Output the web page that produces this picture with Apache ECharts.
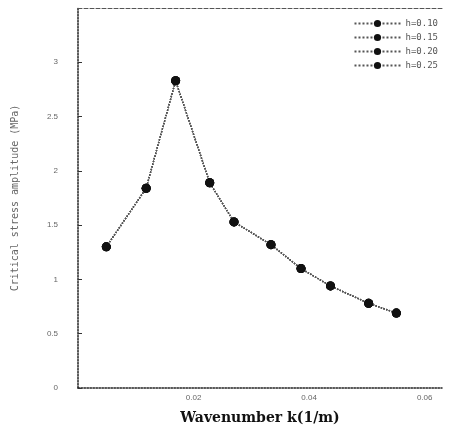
<!DOCTYPE html>
<html>
<head>
<meta charset="utf-8">
<script src="https://cdn.jsdelivr.net/npm/echarts@6/dist/echarts.min.js"></script>
<style>
  html, body { margin: 0; padding: 0; background: #fff; }
  #main { width: 457px; height: 431px; }
</style>
</head>
<body>
<div id="main"></div>
<script>
// values
var wavenumbers = [0.0049, 0.0118, 0.0169, 0.0228, 0.0270, 0.0334, 0.0386, 0.0437, 0.0503, 0.0551]
var seriesA = [1.30, 1.84, 2.83, 1.89, 1.53, 1.32, 1.10, 0.94, 0.78, 0.69]
var seriesB = [1.30, 1.84, 2.83, 1.89, 1.53, 1.32, 1.10, 0.94, 0.78, 0.69]
var seriesC = [1.30, 1.84, 2.83, 1.89, 1.53, 1.32, 1.10, 0.94, 0.78, 0.69]
var seriesD = [1.30, 1.84, 2.83, 1.89, 1.53, 1.32, 1.10, 0.94, 0.78, 0.69]
var seriesNames = ['h=0.10', 'h=0.15', 'h=0.20', 'h=0.25']

var chart = echarts.init(document.getElementById('main'))

var pairs = function (ys) {
    return ys.map(function (y, i) { return [wavenumbers[i], y] })
}
var allSeries = [seriesA, seriesB, seriesC, seriesD]

var option = {
    animation: false,
    backgroundColor: '#fff',
    grid: { left: 78, right: 15, top: 8, bottom: 43 },
    legend: {
        right: 14, top: 14, orient: 'vertical', itemGap: 5,
        itemWidth: 46, itemHeight: 9,
        textStyle: { fontSize: 9, color: '#555', fontFamily: 'DejaVu Sans Mono' },
        data: seriesNames
    },
    xAxis: [{
        type: 'value', min: 0, max: 0.063, interval: 0.02,
        name: 'Wavenumber k(1/m)', nameLocation: 'middle', nameGap: 23,
        nameTextStyle: { fontSize: 14, fontWeight: 'bold', color: '#111', fontFamily: 'DejaVu Serif' },
        axisLine: { lineStyle: { color: '#222', type: 'dotted', width: 1.5 } },
        axisTick: { show: false },
        splitLine: { show: false },
        axisLabel: {
            fontSize: 8, color: '#666', margin: 6, showMaxLabel: false,
            formatter: function (v) { return v === 0 ? '' : v.toFixed(2) }
        }
    }, {
        type: 'value', position: 'top', min: 0, max: 0.063,
        axisLine: { show: true, lineStyle: { color: '#555', type: 'dashed' } },
        axisTick: { show: false }, axisLabel: { show: false }, splitLine: { show: false }
    }],
    yAxis: {
        type: 'value', min: 0, max: 3.5, interval: 0.5,
        name: 'Critical stress amplitude (MPa)', nameLocation: 'middle', nameGap: 58,
        nameTextStyle: { fontSize: 10, color: '#666', fontFamily: 'DejaVu Sans Mono' },
        axisLine: { show: true, lineStyle: { color: '#222', type: 'dotted', width: 1.5 } },
        axisTick: { show: true, inside: true, length: 4, lineStyle: { color: '#333' } },
        splitLine: { show: false },
        axisLabel: { fontSize: 8, color: '#666', margin: 20, showMaxLabel: false }
    },
    series: allSeries.map(function (ys, i) {
        return {
            name: seriesNames[i],
            type: 'line',
            data: pairs(ys),
            symbol: 'circle',
            symbolSize: 9,
            itemStyle: { color: '#111' },
            lineStyle: { color: '#555', width: 1.4, type: 'dotted' }
        }
    })
}
chart.setOption(option)
</script>
</body>
</html>
